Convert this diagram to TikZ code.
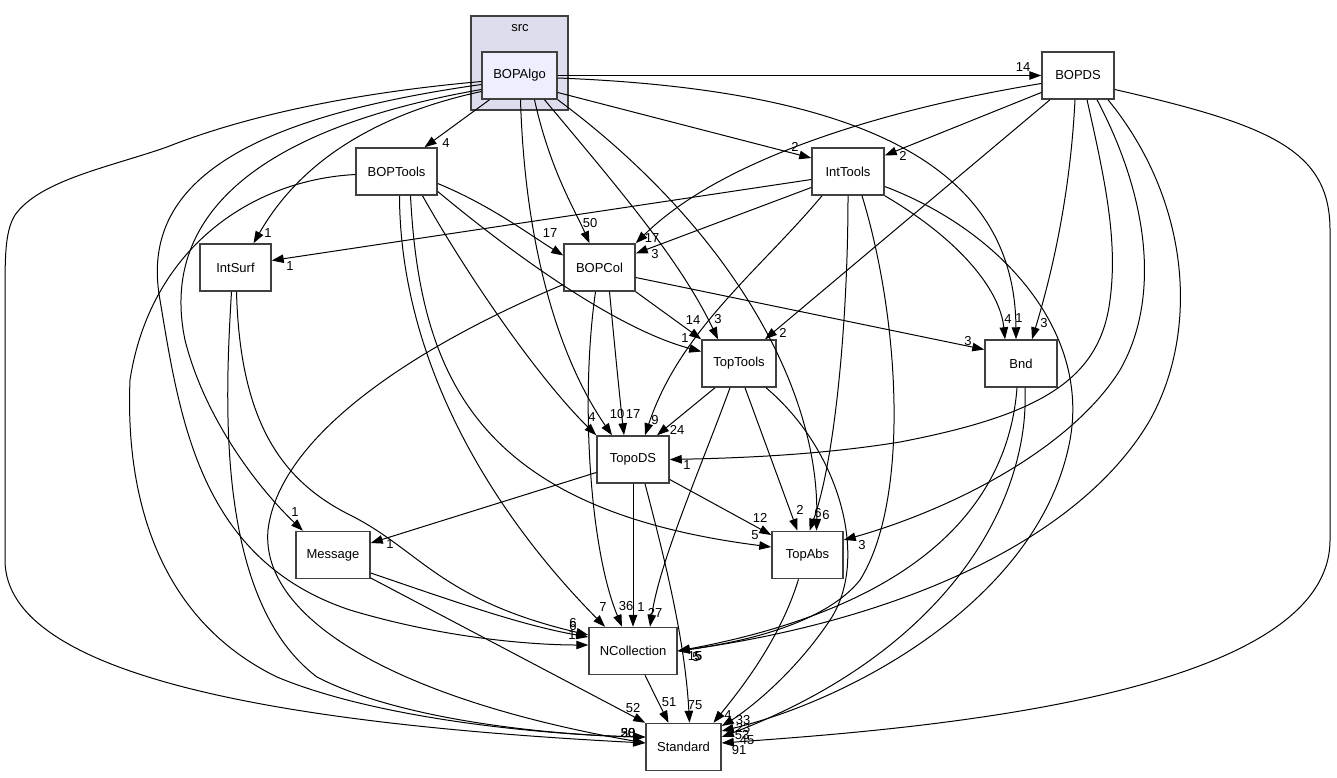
\documentclass[tikz,border=0pt]{standalone}
\usepackage{fontspec}
\setmainfont{Liberation Sans}
\usetikzlibrary{arrows.meta}
\definecolor{bord}{HTML}{404040}
\definecolor{clfill}{HTML}{DDDDEE}
\definecolor{topfill}{HTML}{EEEEFF}
\begin{document}
\begin{tikzpicture}[x=1pt,y=-1pt,
 box/.style={draw=bord,line width=1.5pt,fill=white,minimum height=47pt,inner sep=0pt,font=\fontsize{13}{15}\selectfont},
 lbl/.style={inner sep=0pt,font=\fontsize{13}{15}\selectfont},
 dep/.style={line width=1pt,-{Triangle[length=12pt,width=8.5pt]}}]
\useasboundingbox (0,0) rectangle (1337,777);
\fill[white] (0,0) rectangle (1337,777);
% cluster
\node[draw=bord,line width=1.5pt,fill=clfill,minimum width=97pt,minimum height=94pt,inner sep=0pt] (src) at (519.5,63) {};
\node[lbl] (srclbl) at (520,28) {src};
% nodes
\node[box,fill=topfill,minimum width=75pt] (A) at (519.5,75.5) {BOPAlgo};
\node[box,minimum width=72pt] (D) at (1078,75.5) {BOPDS};
\node[box,minimum width=81pt] (T) at (396.5,171.5) {BOPTools};
\node[box,minimum width=72pt] (I) at (848,171.5) {IntTools};
\node[box,minimum width=71pt] (S) at (235.5,267.5) {IntSurf};
\node[box,minimum width=71pt] (C) at (599.5,267.5) {BOPCol};
\node[box,minimum width=74pt] (TT) at (739,363.5) {TopTools};
\node[box,minimum width=72pt] (B) at (1021,363.5) {Bnd};
\node[box,minimum width=72pt] (TD) at (633,459.5) {TopoDS};
\node[box,minimum width=74pt] (M) at (333,555) {Message};
\node[box,minimum width=71pt] (TA) at (807.5,555) {TopAbs};
\node[box,minimum width=88pt] (N) at (633,651) {NCollection};
\node[box,minimum width=75pt] (St) at (683.5,747) {Standard};
% BOPAlgo
\draw[dep] (A.east) -- (D.west);
\draw[dep] ([xshift=-30pt]A.south) -- ([xshift=28pt]T.north);
\draw[dep] ([yshift=-17pt]A.east) -- ([yshift=13.5pt]I.west);
\draw[dep] ([yshift=-16pt]A.west) .. controls (350,120) and (290,180) .. ([xshift=18pt]S.north);
\draw[dep] ([xshift=15pt]A.south) .. controls (550,170) and (575,210) .. ([xshift=-10pt]C.north);
\draw[dep] ([xshift=25pt]A.south) .. controls (620,190) and (680,260) .. ([xshift=-21pt]TT.north);
\draw[dep] ([xshift=1pt]A.south) .. controls (525,250) and (560,360) .. ([xshift=-21pt]TD.north);
\draw[dep] ([yshift=-2.5pt]A.east) .. controls (870,90) and (1015,170) .. ([xshift=-5pt]B.north);
\draw[dep] (A.south east) .. controls (720,220) and (820,380) .. ([xshift=9pt]TA.north);
\draw[dep] ([yshift=-14pt]A.west) .. controls (250,130) and (160,220) .. (185,340) .. controls (205,420) and (260,490) .. ([xshift=-30pt]M.north);
\draw[dep] ([yshift=-9pt]A.west) .. controls (230,120) and (140,190) .. (160,300) .. controls (180,420) and (200,560) .. (350,610) .. controls (450,640) and (540,645) .. ([yshift=6pt]N.west);
\draw[dep] ([yshift=-6pt]A.west) .. controls (330,95) and (230,122) .. (167,147) .. controls (110,167) and (40,180) .. (15,215) .. controls (6,230) and (5,250) .. (5,290) -- (5,560) .. controls (5,680) and (300,725) .. ([yshift=4pt]St.west);
% BOPDS
\draw[dep] ([yshift=-17pt]D.west) -- ([yshift=16pt]I.east);
\draw[dep] ([yshift=-8pt]D.west) .. controls (880,110) and (720,160) .. (C.north east);
\draw[dep] ([xshift=-28pt]D.south) -- ([xshift=26pt]TT.north);
\draw[dep] ([xshift=-3pt]D.south) .. controls (1070,200) and (1050,280) .. ([xshift=11pt]B.north);
\draw[dep] ([xshift=9pt]D.south) .. controls (1105,180) and (1118,240) .. (1110,300) .. controls (1100,380) and (1040,415) .. (900,442) .. controls (820,455) and (740,458) .. (TD.east);
\draw[dep] ([xshift=19pt]D.south) .. controls (1150,200) and (1160,300) .. (1120,370) .. controls (1070,450) and (950,510) .. ([yshift=15pt]TA.east);
\draw[dep] ([xshift=30pt]D.south) .. controls (1190,200) and (1200,330) .. (1150,420) .. controls (1080,540) and (900,620) .. (N.east);
\draw[dep] ([yshift=-14pt]D.east) .. controls (1270,125) and (1330,150) .. (1330,230) -- (1330,540) .. controls (1330,700) and (900,730) .. ([yshift=4pt]St.east);
% BOPTools
\draw[dep] ([yshift=-12pt]T.east) .. controls (490,205) and (530,235) .. ([yshift=12pt]C.west);
\draw[dep] ([yshift=-20pt]T.east) .. controls (520,260) and (620,330) .. ([yshift=12pt]TT.west);
\draw[dep] ([xshift=26pt]T.south) .. controls (470,280) and (540,380) .. (TD.north west);
\draw[dep] ([xshift=14pt]T.south) .. controls (420,380) and (480,510) .. ([yshift=8pt]TA.west);
\draw[dep] ([xshift=3pt]T.south) .. controls (400,350) and (480,500) .. ([xshift=-28pt]N.north);
\draw[dep] ([yshift=-3pt]T.west) .. controls (250,180) and (150,250) .. (130,380) .. controls (125,500) and (160,620) .. (277,677) .. controls (380,720) and (550,735) .. ([yshift=10pt]St.west);
% IntTools
\draw[dep] ([yshift=-8pt]I.west) -- ([yshift=7pt]S.east);
\draw[dep] ([yshift=-16pt]I.west) -- ([yshift=14pt]C.east);
\draw[dep] ([xshift=-26pt]I.south) .. controls (760,270) and (680,330) .. ([xshift=12pt]TD.north);
\draw[dep] (I.south east) .. controls (960,240) and (1000,290) .. ([xshift=-16pt]B.north);
\draw[dep] ([yshift=-15pt]I.east) .. controls (1000,230) and (1090,330) .. (1070,440) .. controls (1040,600) and (850,700) .. ([yshift=16pt]St.east);
\draw[dep] (I.south) .. controls (848,320) and (835,460) .. ([xshift=2pt]TA.north);
\draw[dep] ([xshift=14pt]I.south) .. controls (900,320) and (910,500) .. (860,580) .. controls (820,630) and (720,645) .. (N.east);
% IntSurf
\draw[dep] ([xshift=1pt]S.south) .. controls (240,420) and (280,480) .. (350,515) .. controls (420,550) and (440,600) .. ([yshift=16pt]N.west);
\draw[dep] ([xshift=-4pt]S.south) .. controls (225,400) and (215,600) .. (317,677) .. controls (400,720) and (550,735) .. ([yshift=10pt]St.west);
% BOPCol
\draw[dep] (C.south east) -- (TT.north west);
\draw[dep] ([xshift=10pt]C.south) .. controls (615,350) and (620,400) .. ([xshift=-9pt]TD.north);
\draw[dep] ([yshift=-10pt]C.east) -- ([yshift=14pt]B.west);
\draw[dep] ([xshift=-4pt]C.south) .. controls (580,400) and (590,550) .. ([xshift=-11pt]N.north);
\draw[dep] ([yshift=-17pt]C.west) .. controls (430,340) and (280,430) .. (268,530) .. controls (260,620) and (400,700) .. ([yshift=4pt]St.west);
% TopTools
\draw[dep] ([xshift=-24pt]TT.south) -- ([xshift=24pt]TD.north);
\draw[dep] ([xshift=6pt]TT.south) -- ([xshift=-10pt]TA.north);
\draw[dep] ([xshift=-9pt]TT.south) .. controls (700,470) and (660,560) .. ([xshift=17pt]N.north);
\draw[dep] ([xshift=27pt]TT.south) .. controls (840,450) and (870,560) .. (830,620) .. controls (790,680) and (740,715) .. ([yshift=21pt]St.east);
% Bnd
\draw[dep] ([xshift=-4pt]B.south) .. controls (1010,480) and (950,600) .. (N.east);
\draw[dep] ([xshift=4pt]B.south) .. controls (1030,500) and (950,650) .. ([yshift=10pt]St.east);
% TopoDS
\draw[dep] ([yshift=-13pt]TD.west) -- ([yshift=12pt]M.east);
\draw[dep] ([yshift=-20pt]TD.east) -- ([yshift=20pt]TA.west);
\draw[dep] (TD.south) -- (N.north);
\draw[dep] ([xshift=12pt]TD.south) .. controls (665,560) and (685,640) .. ([xshift=6pt]St.north);
% Message
\draw[dep] ([yshift=-18pt]M.east) .. controls (450,600) and (520,625) .. ([yshift=14pt]N.west);
\draw[dep] ([yshift=-23pt]M.east) -- (St.north west);
% TopAbs
\draw[dep] ([xshift=-9pt]TA.south) .. controls (780,640) and (740,690) .. ([xshift=30pt]St.north);
% NCollection
\draw[dep] ([xshift=12pt]N.south) -- ([xshift=-15pt]St.north);
% labels
\node[lbl] (l1) at (1023,67) {14};
\node[lbl] (l2) at (446,143) {4};
\node[lbl] (l3) at (795,147) {2};
\node[lbl] (l4) at (903,156) {2};
\node[lbl] (l5) at (268,233) {1};
\node[lbl] (l6) at (290,266) {1};
\node[lbl] (l7) at (550,233) {17};
\node[lbl] (l8) at (590,223) {50};
\node[lbl] (l9) at (652,238) {17};
\node[lbl] (l10) at (655,254) {3};
\node[lbl] (l11) at (693,320) {14};
\node[lbl] (l12) at (718,319) {3};
\node[lbl] (l13) at (685,338) {1};
\node[lbl] (l14) at (783,333) {2};
\node[lbl] (l15) at (1008,319) {4};
\node[lbl] (l16) at (1019,318) {1};
\node[lbl] (l17) at (1044,323) {3};
\node[lbl] (l18) at (968,341) {3};
\node[lbl] (l19) at (592,417) {4};
\node[lbl] (l20) at (617,414) {10};
\node[lbl] (l21) at (633,414) {17};
\node[lbl] (l22) at (655,420) {9};
\node[lbl] (l23) at (677,430) {24};
\node[lbl] (l24) at (687,465) {1};
\node[lbl] (l25) at (295,512) {1};
\node[lbl] (l26) at (390,544) {1};
\node[lbl] (l27) at (760,518) {12};
\node[lbl] (l28) at (755,535) {5};
\node[lbl] (l29) at (800,510) {2};
\node[lbl] (l30) at (818,513) {6};
\node[lbl] (l31) at (826,515) {6};
\node[lbl] (l32) at (862,545) {3};
\node[lbl] (l33) at (603,607) {7};
\node[lbl] (l34) at (626,606) {36};
\node[lbl] (l35) at (641,607) {1};
\node[lbl] (l36) at (655,613) {27};
\node[lbl] (l37) at (573,623) {6};
\node[lbl] (l38) at (573,626) {6};
\node[lbl] (l39) at (572,635) {1};
\node[lbl] (l40) at (695,656) {15};
\node[lbl] (l41) at (698,656) {5};
\node[lbl] (l42) at (696,657) {5};
\node[lbl] (l43) at (633,708) {52};
\node[lbl] (l44) at (669,702) {51};
\node[lbl] (l45) at (695,705) {75};
\node[lbl] (l46) at (628,733) {38};
\node[lbl] (l47) at (628,733) {50};
\node[lbl] (l48) at (628,733) {20};
\node[lbl] (l49) at (728,715) {4};
\node[lbl] (l50) at (743,720) {33};
\node[lbl] (l51) at (743,728) {23};
\node[lbl] (l52) at (742,735) {53};
\node[lbl] (l53) at (747,740) {45};
\node[lbl] (l54) at (739,750) {91};
\end{tikzpicture}
\end{document}
